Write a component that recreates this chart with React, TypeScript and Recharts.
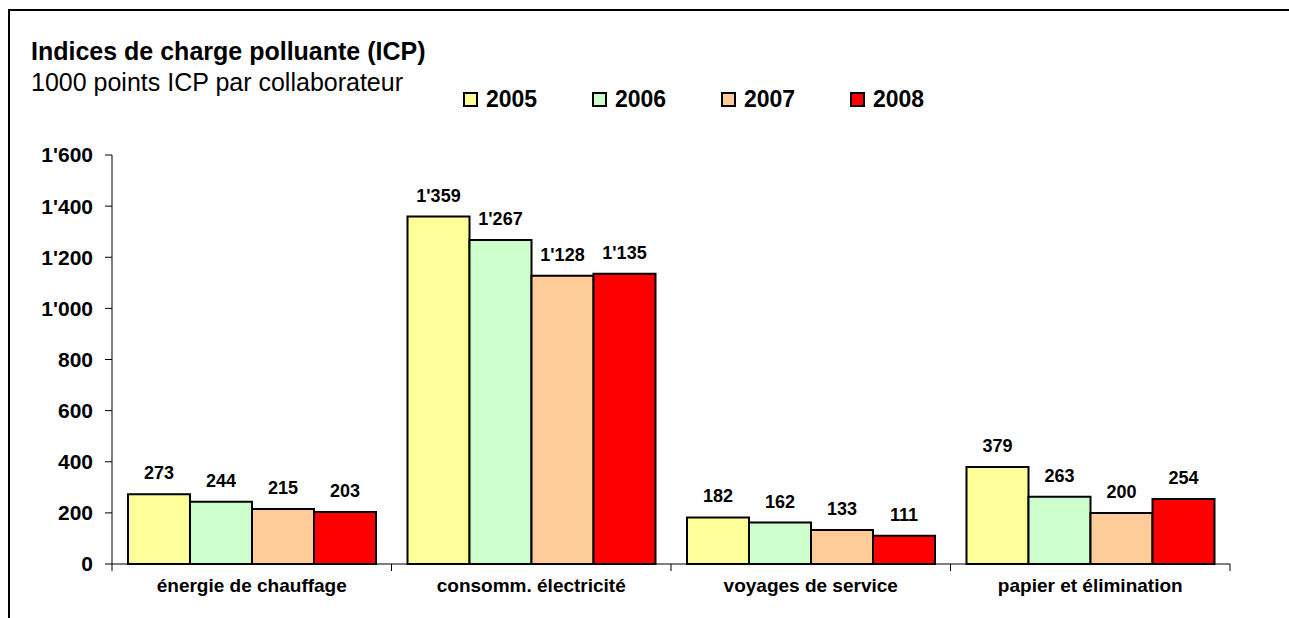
import React from 'react';
import { BarChart, Bar, XAxis, YAxis, Legend, LabelList } from 'recharts';

const categories = ['énergie de chauffage', 'consomm. électricité', 'voyages de service', 'papier et élimination'];
const years = ['2005', '2006', '2007', '2008'];
const v2005 = [273, 1359, 182, 379];
const v2006 = [244, 1267, 162, 263];
const v2007 = [215, 1128, 133, 200];
const v2008 = [203, 1135, 111, 254];
const yTicks = [0, 200, 400, 600, 800, 1000, 1200, 1400, 1600];
const colors = ['#FFFF99', '#CCFFCC', '#FFCC99', '#FF0000'];

const series = [v2005, v2006, v2007, v2008];
const data = categories.map((name, i) => {
  const row: Record<string, string | number> = { name };
  years.forEach((y, j) => {
    row[y] = series[j][i];
  });
  return row;
});

const FONT = 'Arial, "Liberation Sans", sans-serif';

// 1'359 style thousands separator
const fmt = (v: any) => {
  const n = Number(v);
  if (n < 1000) return String(n);
  return `${Math.floor(n / 1000)}'${String(n % 1000).padStart(3, '0')}`;
};

// category label + tick marks on the category boundaries (Excel style)
const CategoryTick = (props: any) => {
  const { x, y, payload, index, visibleTicksCount } = props;
  const half = payload.offset || 0;
  return (
    <g>
      <line x1={x - half} x2={x - half} y1={y} y2={y + 7} stroke="#000" strokeWidth={1} />
      {index === visibleTicksCount - 1 && (
        <line x1={x + half} x2={x + half} y1={y} y2={y + 7} stroke="#000" strokeWidth={1} />
      )}
      <text x={x} y={y + 28} textAnchor="middle" fontFamily={FONT} fontWeight="bold" fontSize={19} fill="#000">
        {payload.value}
      </text>
    </g>
  );
};

const LegendContent = () => (
  <div style={{ display: 'flex', fontFamily: FONT }}>
    {years.map((y, i) => (
      <div key={y} style={{ display: 'flex', alignItems: 'center', width: 129 }}>
        <span
          style={{
            display: 'inline-block',
            width: 11,
            height: 11,
            background: colors[i],
            border: '2px solid #000',
            marginRight: 8,
          }}
        />
        <span style={{ fontSize: 23, fontWeight: 'bold', lineHeight: '26px' }}>{y}</span>
      </div>
    ))}
  </div>
);

export default function App() {
  return (
    <div style={{ position: 'absolute', left: 0, top: 0, width: 1289, height: 618, overflow: 'hidden', background: '#fff' }}>
      <div
        style={{
          position: 'absolute',
          left: 8,
          top: 9,
          width: 1300,
          height: 620,
          borderTop: '2px solid #000',
          borderLeft: '2px solid #000',
        }}
      />
      <div style={{ position: 'absolute', left: 31, top: 39, fontFamily: FONT, fontSize: 25, fontWeight: 'bold', lineHeight: '25px', whiteSpace: 'nowrap' }}>
        Indices de charge polluante (ICP)
      </div>
      <div style={{ position: 'absolute', left: 31, top: 70, fontFamily: FONT, fontSize: 25, lineHeight: '25px', whiteSpace: 'nowrap' }}>
        1000 points ICP par collaborateur
      </div>
      <BarChart
        width={1289}
        height={618}
        data={data}
        margin={{ top: 155, right: 59, bottom: 14, left: 0 }}
        barCategoryGap={16}
        barGap={0}
        style={{ position: 'absolute', left: 0, top: 0 }}
      >
        <XAxis
          dataKey="name"
          height={40}
          axisLine={{ stroke: '#000', strokeWidth: 1 }}
          tickLine={false}
          tickSize={0}
          tickMargin={0}
          interval={0}
          tick={<CategoryTick />}
        />
        <YAxis
          width={112}
          domain={[0, 1600]}
          ticks={yTicks}
          interval={0}
          tickFormatter={fmt}
          axisLine={{ stroke: '#000', strokeWidth: 1 }}
          tickLine={{ stroke: '#000', strokeWidth: 1 }}
          tickSize={7}
          tickMargin={12}
          tick={{ fill: '#000', fontFamily: FONT, fontWeight: 'bold', fontSize: 21 }}
        />
        <Legend
          layout="horizontal"
          verticalAlign="middle"
          align="center"
          wrapperStyle={{ left: 463, top: 86, width: 540 }}
          content={<LegendContent />}
        />
        {years.map((y, i) => (
          <Bar key={y} dataKey={y} fill={colors[i]} stroke="#000" strokeWidth={2} isAnimationActive={false}>
            <LabelList
              dataKey={y}
              position="top"
              offset={15}
              formatter={fmt}
              fill="#000"
              fontFamily={FONT}
              fontWeight="bold"
              fontSize={18}
            />
          </Bar>
        ))}
      </BarChart>
    </div>
  );
}
